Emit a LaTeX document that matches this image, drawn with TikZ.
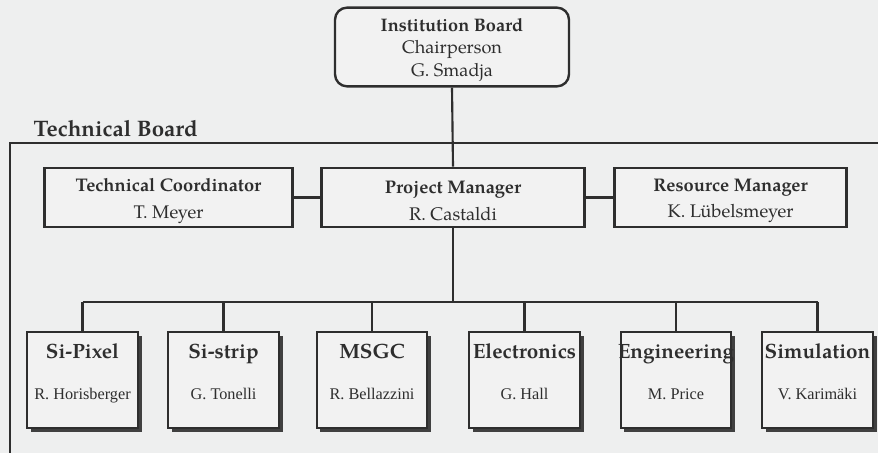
\documentclass[tikz,border=0pt]{standalone}
\usepackage{fontspec}
\setmainfont{TeX Gyre Pagella}
\newfontfamily\namefont{Liberation Serif}
\usetikzlibrary{shadows,calc}
\definecolor{paper}{HTML}{EEEFEF}
\definecolor{ink}{HTML}{2E2E2E}
\definecolor{boxfill}{HTML}{F2F2F2}
\begin{document}
\begin{tikzpicture}[x=0.75pt,y=-0.75pt,
  wire/.style={draw=ink, line width=1.6pt},
  frame/.style={draw=ink, line width=2.2pt},
  board/.style={draw=ink, line width=1.8pt, fill=boxfill, rounded corners=9pt,
    minimum width=175.5pt, minimum height=59pt, inner sep=0pt},
  boardtext/.style={align=center, inner sep=0pt, text=ink,
    font=\fontsize{13.6}{17}\selectfont},
  lead/.style={draw=ink, line width=1.9pt, fill=boxfill, minimum height=44.5pt,
    inner sep=0pt},
  leadtext/.style={align=center, inner sep=0pt, text=ink,
    font=\fontsize{13.7}{20}\selectfont},
  unit/.style={draw=ink, line width=1.6pt, fill=boxfill, minimum width=83pt,
    minimum height=72pt, inner sep=0pt,
    drop shadow={shadow xshift=2.8pt, shadow yshift=-2.8pt, fill=black!75, opacity=1}},
  utitle/.style={anchor=base, text=ink, font=\fontsize{15.5}{18}\selectfont\bfseries},
  uname/.style={anchor=base, text=ink, font=\namefont\fontsize{12.2}{14}\selectfont},
  tblabel/.style={anchor=base west, text=ink, font=\fontsize{16.8}{19}\selectfont\bfseries}]
\useasboundingbox (0,0) rectangle (878,453);
\fill[paper] (0,0) rectangle (878,453);

% Technical Board frame, running off the page to the right and bottom
\begin{scope}
  \clip (0,0) rectangle (878,453);
  \draw[frame] (10,143) rectangle (900,480);
\end{scope}
\node[tblabel] (tb) at (29,136) {Technical Board};

% Institution Board
\node[board] (ib) at (452,47) {};
\node[boardtext] (ibT) at ([yshift=-2.2pt]ib.center)
  {\textbf{Institution Board}\\Chairperson\\G. Smadja};

% Management row
\node[lead, minimum width=186pt] (tc) at (168.5,197.5) {};
\node[lead, minimum width=197pt] (pm) at (453,197.5) {};
\node[lead, minimum width=174pt] (rm) at (730.5,197.5) {};
\node[leadtext] (tcT) at ([yshift=-2.6pt]tc.center) {\textbf{Technical Coordinator}\\T. Meyer};
\node[leadtext] (pmT) at ([yshift=-2.6pt]pm.center) {\textbf{Project Manager}\\R. Castaldi};
\node[leadtext] (rmT) at ([yshift=-2.6pt]rm.center) {\textbf{Resource Manager}\\K. Lübelsmeyer};

\draw[wire] (ib.south) -- (pm.north);
\draw[wire] (tc.east) -- (pm.west);
\draw[wire] (pm.east) -- (rm.west);

% Project groups
\node[unit] (pix) at (82.5,380) {};
\node[unit] (str) at (223.5,380) {};
\node[unit] (msgc) at (372,380) {};
\node[unit] (ele) at (524.5,380) {};
\node[unit] (eng) at (676,380) {};
\node[unit] (sim) at (817.5,380) {};

\node[utitle] (pixT) at (82.5,358) {Si-Pixel};
\node[utitle] (strT) at (223.5,358) {Si-strip};
\node[utitle] (msgcT) at (372,358) {MSGC};
\node[utitle] (eleT) at (524.5,358) {Electronics};
\node[utitle] (engT) at (676,358) {Engineering};
\node[utitle] (simT) at (817.5,358) {Simulation};

\node[uname] (pixN) at (82.5,399) {R. Horisberger};
\node[uname] (strN) at (223.5,399) {G. Tonelli};
\node[uname] (msgcN) at (372,399) {R. Bellazzini};
\node[uname] (eleN) at (524.5,399) {G. Hall};
\node[uname] (engN) at (676,399) {M. Price};
\node[uname] (simN) at (817.5,399) {V. Karimäki};

% Distribution bus below the Project Manager
\coordinate (bus) at (453,302);
\draw[wire] (pm.south) -- (bus);
\draw[wire] (pix.north |- bus) -- (sim.north |- bus);
\foreach \u in {pix,str,msgc,ele,eng,sim}
  \draw[wire] (\u.north) -- (\u.north |- bus);
\end{tikzpicture}
\end{document}
